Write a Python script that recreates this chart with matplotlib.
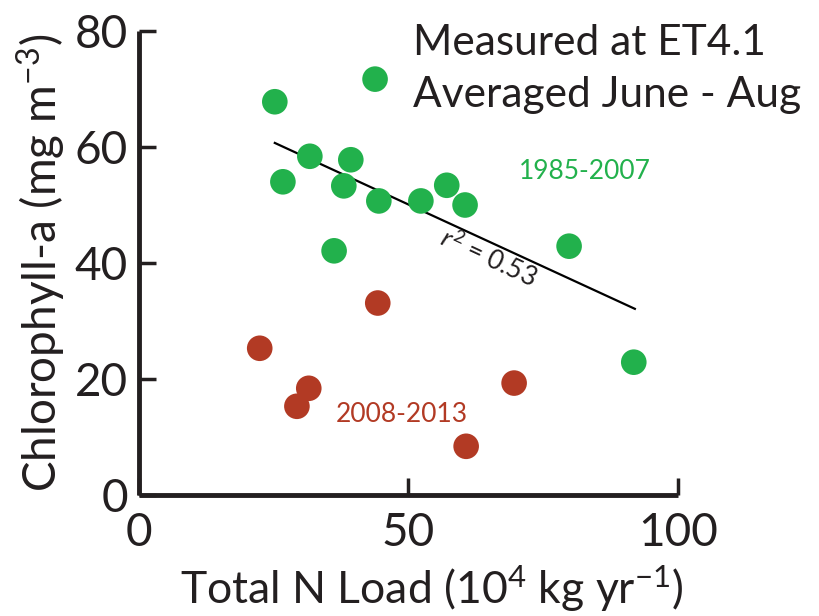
"""
    Chlorophyll-a vs Total N Load at ET4.1
"""

import numpy as np
import matplotlib
matplotlib.use("Agg")
import matplotlib.pyplot as plt

#####################################################################################################

# 1985-2007 (green)
early_load = [25.2, 43.8, 26.7, 31.7, 39.3, 38.0, 44.5, 36.2, 52.3, 57.1, 60.5, 79.8, 91.8]
early_chl  = [67.8, 71.7, 54.0, 58.4, 57.8, 53.3, 50.7, 42.1, 50.7, 53.4, 50.0, 42.9, 22.9]

# 2008-2013 (red)
late_load = [22.4, 31.5, 29.3, 44.3, 69.6, 60.7]
late_chl  = [25.3, 18.4, 15.3, 33.1, 19.3, 8.4]

# regression line for 1985-2007, r^2 = 0.53
fit_load = [25.2, 92.0]
fit_chl  = [60.7, 32.1]

x_ticks = [0, 50, 100]
y_ticks = [0, 20, 40, 60, 80]

GREEN = "#22b14c"
RED   = "#b23a24"
INK   = "#231f20"

plt.rcParams["font.family"] = ["Lato", "DejaVu Sans"]
plt.rcParams["mathtext.fontset"] = "custom"
plt.rcParams["mathtext.rm"] = "Lato"
plt.rcParams["mathtext.it"] = "Lato:italic"

fig = plt.figure(figsize=(8.19, 6.16), dpi=100)
ax = fig.add_axes([0.1697, 0.1964, 0.6581, 0.7533])

ax.plot(fit_load, fit_chl, color="black", lw=1.6, zorder=2)
ax.scatter(early_load, early_chl, s=340, color=GREEN, edgecolors="none", zorder=3)
ax.scatter(late_load, late_chl, s=340, color=RED, edgecolors="none", zorder=3)

ax.set_xlim(0, 100)
ax.set_ylim(0, 80)
ax.set_xticks(x_ticks)
ax.set_yticks(y_ticks)
ax.tick_params(direction="in", length=12, width=2.5, labelsize=33, colors=INK, pad=8)
ax.tick_params(axis="x", pad=12)
for side in ["top", "right"]:
    ax.spines[side].set_visible(False)
for side in ["left", "bottom"]:
    ax.spines[side].set_linewidth(3.5)
    ax.spines[side].set_color(INK)
    ax.spines[side].set_capstyle("butt")

ax.set_xlabel(r"Total N Load (10$^{4}$ kg yr$^{-1}$)", fontsize=32, color=INK)
ax.xaxis.set_label_coords(0.543, -0.148)
ax.set_ylabel(r"Chlorophyll-a (mg m$^{-3}$)", fontsize=33, color=INK, labelpad=5)

ax.text(50.8, 77.9, "Measured at ET4.1", fontsize=30.5, color=INK, va="center", ha="left")
ax.text(50.8, 69.0, "Averaged June - Aug", fontsize=30.5, color=INK, va="center", ha="left")
ax.text(82.7, 55.7, "1985-2007", fontsize=19, color=GREEN, ha="center", va="center")
ax.text(48.8, 13.8, "2008-2013", fontsize=19, color=RED, ha="center", va="center")
ax.text(64.7, 40.9, r"$r^2$ = 0.53", fontsize=19, color=INK, ha="center", va="center",
        rotation=-25)

fig.savefig("out.png", dpi=100)
